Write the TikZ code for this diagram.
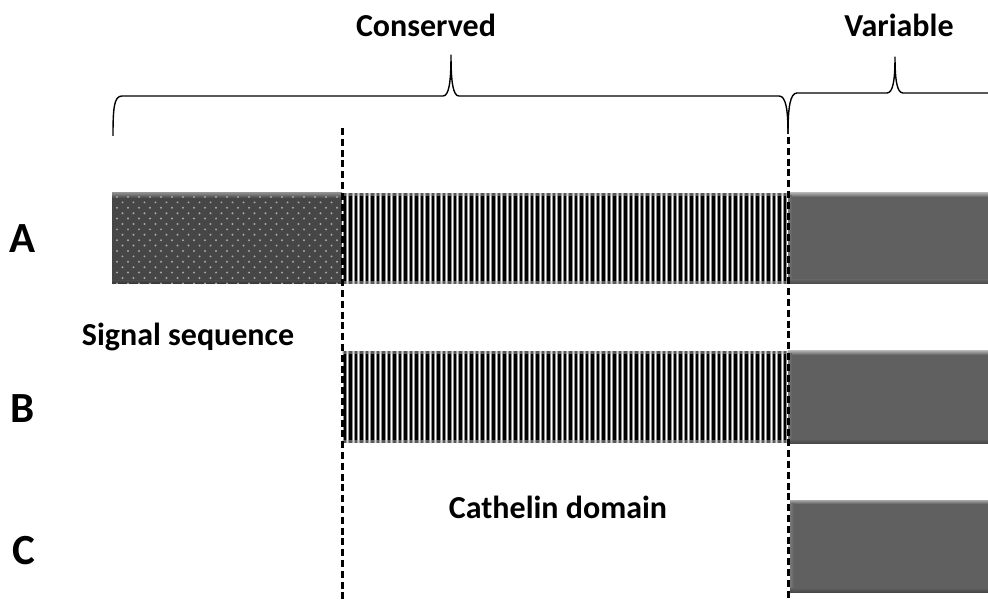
\documentclass[tikz,border=0pt]{standalone}
\usepackage{fontspec}
\setmainfont{Carlito}
\definecolor{segmid}{HTML}{606060}
\definecolor{seglight}{HTML}{A8A8A8}
\definecolor{segdark}{HTML}{484848}
\definecolor{sigfill}{HTML}{464646}
\definecolor{sigdot}{HTML}{A8A8A8}
\tikzset{
  lbl/.style={font=\bfseries\fontsize{32}{36}\selectfont, anchor=base, inner sep=0pt},
  rowlbl/.style={font=\bfseries\fontsize{43}{48}\selectfont, anchor=base, inner sep=0pt},
  brace/.style={line width=1.4pt, line join=round},
  divider/.style={line width=3pt, dash pattern=on 7pt off 3.8pt},
}
% variable segment with a bevelled look
\newcommand\varseg[4]{%
  \fill[segmid] (#1,#2) rectangle (#3,#4);
  \shade[top color=seglight, bottom color=segmid] (#1,#2) rectangle (#3,{#2+4});
  \shade[left color=segmid!85!white, right color=segmid] (#1,{#2+3}) rectangle ({#1+4},#4);
  \shade[top color=segmid, bottom color=segdark] (#1,{#4-4}) rectangle (#3,#4);
}
% black and white stripes of the cathelin domain
\newcommand\stripeseg[4]{%
  \fill[white] (#1,#2) rectangle (#3,#4);
  \begin{scope}
    \clip (#1,#2) rectangle (#3,#4);
    \foreach \i in {0,...,81}{
      \fill[black] ({#1+\i*5.5+1.4},#2) rectangle ++(2.6,{#4-#2});
      \fill[black!45] ({#1+\i*5.5+0.7},#2) rectangle ++(0.7,{#4-#2});
      \fill[black!45] ({#1+\i*5.5+4.0},#2) rectangle ++(0.7,{#4-#2});
    }
    \fill[black!30, opacity=0.5] (#1,#2) rectangle (#3,{#2+3});
    \fill[black!30, opacity=0.5] (#1,{#4-3}) rectangle (#3,#4);
  \end{scope}
}
\begin{document}
\begin{tikzpicture}[x=1pt,y=-1pt]
\useasboundingbox (0,0) rectangle (988,601);

% ---- row A ----
\fill[sigfill] (112,193) rectangle (342,284);
\shade[top color=sigfill!65!white, bottom color=sigfill] (112,193) rectangle (342,198);
\shade[top color=sigfill, bottom color=black!80] (112,281) rectangle (342,284);
\begin{scope}
  \clip (112,193) rectangle (342,284);
  \foreach \r in {0,...,16}{
    \pgfmathsetmacro\off{mod(\r,2)*5.5}
    \foreach \c in {0,...,21}{
      \fill[sigdot] ({117+\off+\c*11},{197+\r*5.4}) circle (1.1);
    }
  }
\end{scope}
\stripeseg{342}{193}{788}{284}
\varseg{788}{193}{988}{284}

% ---- row B ----
\stripeseg{342}{351}{788}{443}
\varseg{788}{351}{988}{443}

% ---- row C ----
\varseg{790}{500}{988}{592}

% ---- domain boundaries ----
\coordinate (d1t) at (342,128);
\coordinate (d1b) at (342,601);
\coordinate (d2t) at (788,137);
\coordinate (d2b) at (788,601);
\draw[divider] (d1t) -- (d1b);
\draw[divider] (d2t) -- (d2b);

% ---- braces ----
\draw[brace] (113,136) .. controls (113,108) and (114,96) .. (122,96)
  -- (443,96) .. controls (449,96) and (451,82) .. (451,55)
  .. controls (451,82) and (453,96) .. (459,96)
  -- (779,96) .. controls (786,96) and (788,110) .. (788,134);
\draw[brace] (788,134) .. controls (788,108) and (790,93) .. (797,93)
  -- (887,93) .. controls (893,93) and (895,80) .. (895,57)
  .. controls (895,80) and (897,93) .. (903,93) -- (988,93);

% ---- labels ----
\node[lbl] (cons) at (426,37) {Conserved};
\node[lbl] (var) at (899,37) {Variable};
\node[lbl] (sig) at (188,346) {Signal sequence};
\node[lbl] (cat) at (558,518) {Cathelin domain};
\node[rowlbl] (la) at (23,253) {A};
\node[rowlbl] (lb) at (23,422) {B};
\node[rowlbl] (lc) at (24,564) {C};
\end{tikzpicture}
\end{document}
